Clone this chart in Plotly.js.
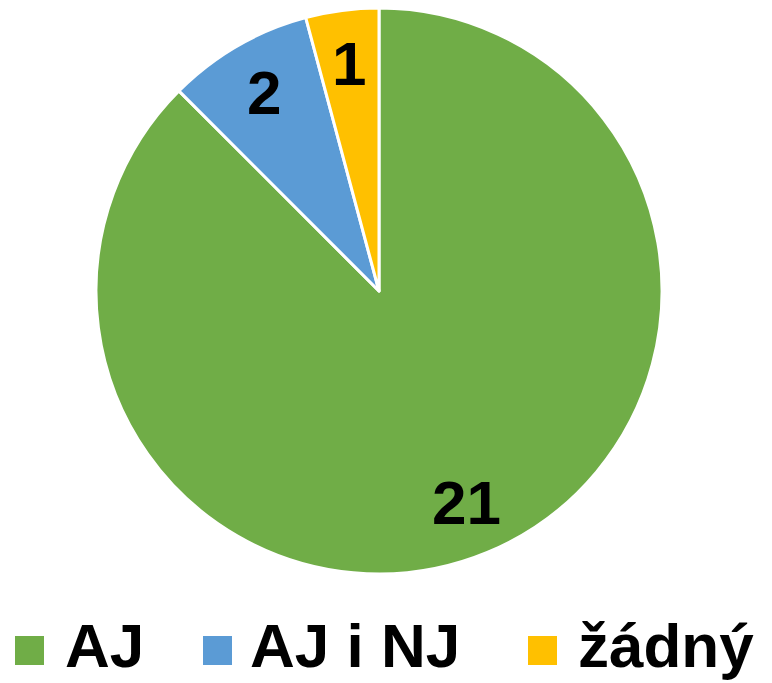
<!DOCTYPE html>
<html>
<head>
<meta charset="utf-8">
<script src="https://cdn.plot.ly/plotly-3.0.1.min.js"></script>
<style>html,body{margin:0;padding:0;background:#fff;}#chart{width:772px;height:683px;}</style>
</head>
<body>
<div id="chart"></div>
<script>
const labels = ["AJ", "AJ i NJ", "žádný"];
const values = [21, 2, 1];
const colors = ["#70AD47", "#5B9BD5", "#FFC000"];

const W = 772, H = 683;
const cx = 379, cy = 291, R = 283;
const FONT = "Liberation Sans, Arial, sans-serif";

// label annotations placed along each slice's mid-angle (computed from values)
const total = values.reduce((a, b) => a + b, 0);
const annotations = [];
let acc = 0;
values.forEach((v, i) => {
  const mid = (acc + v / 2) / total * 2 * Math.PI; // clockwise from 12 o'clock
  acc += v;
  const rf = 0.81;
  const px = cx + Math.sin(mid) * R * rf;
  const py = cy - Math.cos(mid) * R * rf;
  annotations.push({
    xref: "paper", yref: "paper", x: px / W, y: 1 - py / H,
    xanchor: "center", yanchor: "middle", showarrow: false,
    text: String(v),
    font: {family: FONT, size: 62, color: "#000", weight: 700}
  });
});

// custom legend (large squares)
const legSq = [15, 203, 528];
const legTxt = [65, 250, 578];
const sqTop = 636, sqSize = 29;
const shapes = [];
labels.forEach((l, i) => {
  shapes.push({
    type: "rect", xref: "paper", yref: "paper", layer: "above",
    x0: legSq[i] / W, x1: (legSq[i] + sqSize) / W,
    y0: 1 - (sqTop + sqSize) / H, y1: 1 - sqTop / H,
    fillcolor: colors[i], line: {width: 0}
  });
  annotations.push({
    xref: "paper", yref: "paper", x: legTxt[i] / W, y: 1 - 645 / H,
    xanchor: "left", yanchor: "middle", showarrow: false,
    text: l, xshift: -2,
    font: {family: FONT, size: 62, color: "#000", weight: 700}
  });
});

const data = [{
  type: "pie",
  labels: labels,
  values: values,
  sort: false,
  direction: "clockwise",
  rotation: 0,
  marker: {colors: colors, line: {color: "#FFFFFF", width: 3}},
  textinfo: "none",
  hoverinfo: "label+value",
  domain: {x: [(cx - R) / W, (cx + R) / W], y: [1 - (cy + R) / H, 1 - (cy - R) / H]}
}];

const layout = {
  width: W, height: H,
  margin: {l: 0, r: 0, t: 0, b: 0},
  paper_bgcolor: "#FFFFFF",
  showlegend: false,
  annotations: annotations,
  shapes: shapes
};

Plotly.newPlot("chart", data, layout, {displayModeBar: false, staticPlot: true});
</script>
</body>
</html>
